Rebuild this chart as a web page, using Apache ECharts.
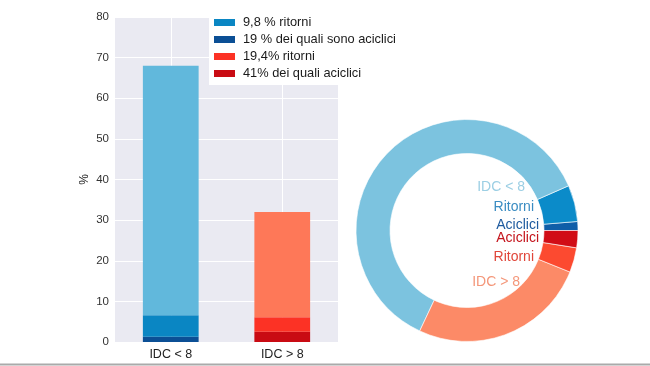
<!DOCTYPE html>
<html>
<head>
<meta charset="utf-8">
<script src="https://cdn.jsdelivr.net/npm/echarts@6/dist/echarts.min.js"></script>
<style>html,body{margin:0;padding:0;background:#fff}#c{width:650px;height:366px}</style>
</head>
<body>
<div id="c"></div>
<script>
// ---- data ----
var categories = ['IDC < 8', 'IDC > 8'];
var aciclici = [1.3, 2.5];          // bottom segment (acyclic returns)
var ritorniAltri = [5.3, 3.6];      // other returns
var restanti = [61.4, 25.9];        // remainder of each group
var yTicks = [0, 10, 20, 30, 40, 50, 60, 70, 80];
var legendNames = ['9,8 % ritorni', '19 % dei quali sono aciclici', '19,4% ritorni', '41% dei quali aciclici'];
var pieLabels = ['Aciclici', 'Ritorni', 'IDC < 8', 'IDC > 8', 'Ritorni', 'Aciclici'];

var FONT = 'Liberation Sans, Arial, sans-serif';
var barCol = {lb:'#61b8dc', mb:'#0a86c3', db:'#0b4f95', sal:'#fe7858', red:'#fc3225', dr:'#c90b13'};
var pieCol = ['#0f5ea8', '#0b8bc9', '#7cc3df', '#fc8a67', '#fc4a30', '#d10d16'];
var pieLabCol = ['#1d5a9e', '#3a8cc2', '#9ccfe4', '#f4977a', '#e0463a', '#c4141c'];
var pieLabPos = [[539,225],[534,206.7],[525,187],[520,281.7],[534,256.7],[539,238.3]];

function col(arr, i){ return arr.map(function(v, k){ return k === i ? v : null; }); }

var pieValues = [aciclici[0], ritorniAltri[0], restanti[0], restanti[1], ritorniAltri[1], aciclici[1]];

var chart = echarts.init(document.getElementById('c'), null, {renderer:'canvas'});
chart.setOption({
  animation: false,
  textStyle: {fontFamily: FONT},
  grid: {left:115, right:312, top:17, bottom:24, show:true, backgroundColor:'#eaeaf2', borderWidth:0},
  legend: {
    left: 209, top: 11, orient: 'vertical', padding: 5, backgroundColor: '#fff',
    itemWidth: 21, itemHeight: 7, itemGap: 4, icon: 'rect',
    data: legendNames,
    textStyle: {fontFamily: FONT, fontSize: 12.8, color: '#1a1a1a', lineHeight: 13, padding:[0,0,0,3]}
  },
  xAxis: {
    type: 'category', data: categories,
    axisLine: {show:false}, axisTick: {show:false},
    axisLabel: {fontSize: 12.5, color:'#222', margin: 6, fontFamily: FONT},
    splitLine: {show:true, alignWithLabel:true, lineStyle:{color:'#fff', width:1}}
  },
  yAxis: {
    type: 'value', min: 0, max: 80, interval: 10,
    name: '%', nameLocation: 'middle', nameRotate: 90, nameGap: 24,
    nameTextStyle: {fontSize: 12, color:'#222', fontFamily: FONT},
    axisLine: {show:false}, axisTick: {show:false},
    axisLabel: {fontSize: 11.5, color:'#333', margin: 6, fontFamily: FONT},
    splitLine: {lineStyle:{color:'#fff', width:1}}
  },
  series: [
    {name: legendNames[1], type:'bar', stack:'s', barWidth:'50%', data: col(aciclici,0), itemStyle:{color:barCol.db}},
    {name: legendNames[0], type:'bar', stack:'s', data: col(ritorniAltri,0), itemStyle:{color:barCol.mb}},
    {name: 'IDC < 8 altri', type:'bar', stack:'s', data: col(restanti,0), itemStyle:{color:barCol.lb}},
    {name: legendNames[3], type:'bar', stack:'s', data: col(aciclici,1), itemStyle:{color:barCol.dr}},
    {name: legendNames[2], type:'bar', stack:'s', data: col(ritorniAltri,1), itemStyle:{color:barCol.red}},
    {name: 'IDC > 8 altri', type:'bar', stack:'s', data: col(restanti,1), itemStyle:{color:barCol.sal}},
    {
      type: 'pie', center: [467, 230.5], radius: [77, 111],
      startAngle: 0, clockwise: false, avoidLabelOverlap: false,
      itemStyle: {borderColor:'#fff', borderWidth:0.6},
      label: {show:true, position:'outside', fontSize:14, fontFamily: FONT, formatter: function(p){ return pieLabels[p.dataIndex]; }},
      labelLine: {show:false},
      emphasis: {disabled:true},
      labelLayout: function(p){
        var pos = pieLabPos[p.dataIndex];
        return {x: pos[0], y: pos[1], align:'right', verticalAlign:'middle'};
      },
      data: pieValues.map(function(v, i){
        return {value: v, name: 'p' + i, itemStyle:{color: pieCol[i]}, label:{color: pieLabCol[i]}};
      })
    }
  ],
  graphic: [{
    type:'line', shape:{x1:0, y1:364.5, x2:650, y2:364.5}, style:{stroke:'#aaaaaa', lineWidth:2}, silent:true
  }]
});
</script>
</body>
</html>
